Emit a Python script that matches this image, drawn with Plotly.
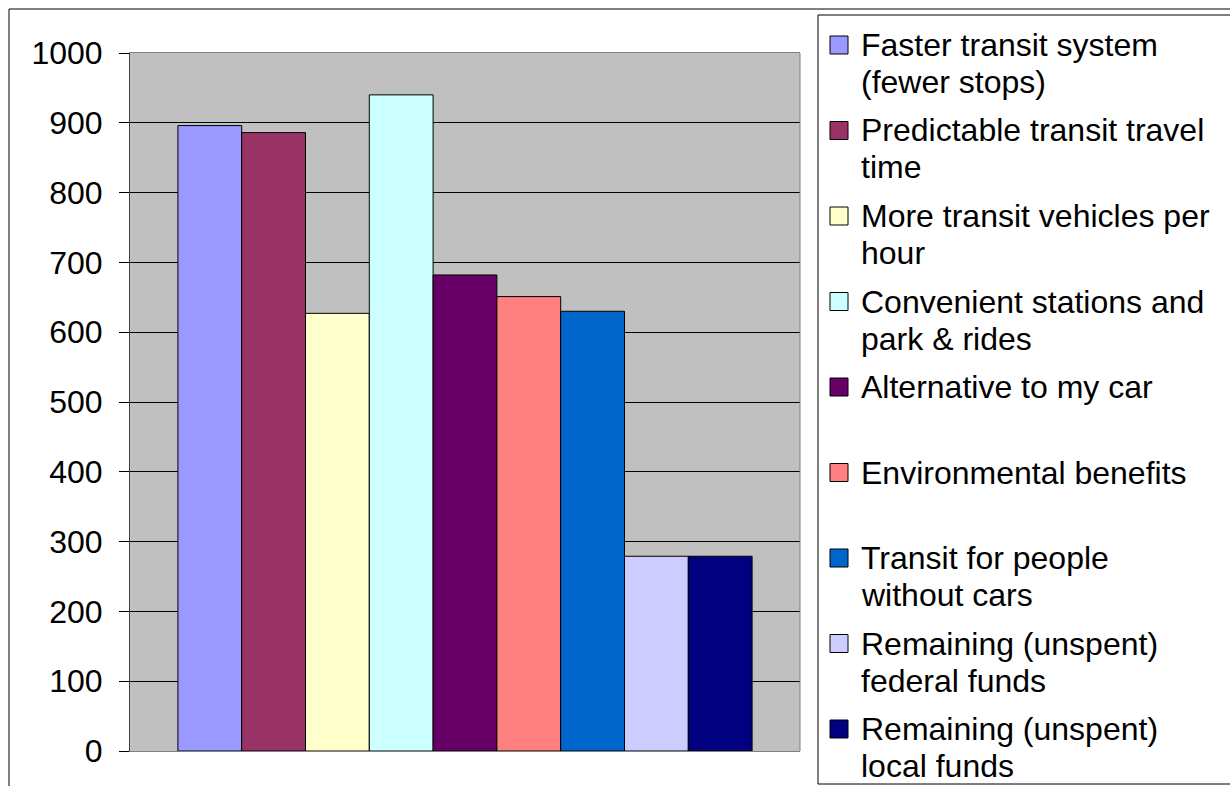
import plotly.graph_objects as go

# Survey results: one category, nine priorities
category = ["Priorities"]
labels = [
    "Faster transit system<br>(fewer stops)",
    "Predictable transit travel<br>time",
    "More transit vehicles per<br>hour",
    "Convenient stations and<br>park & rides",
    "Alternative to my car",
    "Environmental benefits",
    "Transit for people<br>without cars",
    "Remaining (unspent)<br>federal funds",
    "Remaining (unspent)<br>local funds",
]
values = [896, 886, 627, 940, 682, 651, 630, 279, 279]
colors = ["#9999FF", "#993366", "#FFFFCC", "#CCFFFF", "#660066",
          "#FF8080", "#0066CC", "#CCCCFF", "#000080"]
y_ticks = [0, 100, 200, 300, 400, 500, 600, 700, 800, 900, 1000]

W, H = 1230, 786
L, R, T, B = 130, 430, 53, 35
PW, PH = W - L - R, H - T - B


def px_x(x):
    return (x - L) / PW


def px_y(y):
    return (H - B - y) / PH


FONT = "Liberation Sans, Arial, sans-serif"

fig = go.Figure()
for name, v, c in zip(labels, values, colors):
    fig.add_trace(go.Bar(
        x=category, y=[v], name=name.replace("<br>", " "),
        marker=dict(color=c, line=dict(color="#000000", width=1)),
        showlegend=False,
    ))

shapes = [
    # outer chart frame (right and bottom run off the page)
    dict(type="rect", xref="paper", yref="paper",
         x0=px_x(9), x1=px_x(1300), y0=px_y(850), y1=px_y(9),
         line=dict(color="#000000", width=1), fillcolor="rgba(0,0,0,0)",
         layer="above"),
    # legend frame
    dict(type="rect", xref="paper", yref="paper",
         x0=px_x(818), x1=px_x(1300), y0=px_y(784), y1=px_y(15),
         line=dict(color="#000000", width=1), fillcolor="white",
         layer="above"),
    # right edge of the plot area
    dict(type="line", xref="paper", yref="paper",
         x0=1, x1=1, y0=0, y1=1,
         line=dict(color="#808080", width=1), layer="above"),
]
annotations = []

# legend: one swatch and one or two text lines per series
ENTRY_TOP, ENTRY_STEP, LINE_STEP, SW = 45, 85.5, 37, 18
for i, (name, c) in enumerate(zip(labels, colors)):
    cy = ENTRY_TOP + i * ENTRY_STEP
    shapes.append(dict(
        type="rect", xref="paper", yref="paper",
        x0=px_x(830), x1=px_x(830 + SW),
        y0=px_y(cy + SW / 2), y1=px_y(cy - SW / 2),
        fillcolor=c, line=dict(color="#000000", width=1), layer="above",
    ))
    for j, line in enumerate(name.split("<br>")):
        annotations.append(dict(
            xref="paper", yref="paper",
            x=px_x(859), y=px_y(cy + j * LINE_STEP),
            xanchor="left", yanchor="middle",
            text=line, showarrow=False,
            font=dict(family=FONT, size=32, color="black"),
        ))

fig.update_layout(
    width=W, height=H,
    margin=dict(l=L, r=R, t=T, b=B, autoexpand=False),
    paper_bgcolor="white",
    plot_bgcolor="#C0C0C0",
    barmode="group", bargap=0.143, bargroupgap=0,
    font=dict(family=FONT, color="black"),
    showlegend=False,
    xaxis=dict(
        showticklabels=False, ticks="", showgrid=False,
        showline=True, linecolor="#808080", linewidth=1, mirror=True,
    ),
    yaxis=dict(
        range=[0, 1000], tickvals=y_ticks,
        ticks="outside", ticklen=10, tickcolor="#000000", tickwidth=1,
        ticklabelstandoff=10,
        tickfont=dict(family=FONT, size=32, color="black"),
        showgrid=True, gridcolor="#000000", gridwidth=1,
        showline=True, linecolor="#404040", linewidth=1,
        zeroline=False,
    ),
    shapes=shapes,
    annotations=annotations,
)

fig.write_html("out.html")
